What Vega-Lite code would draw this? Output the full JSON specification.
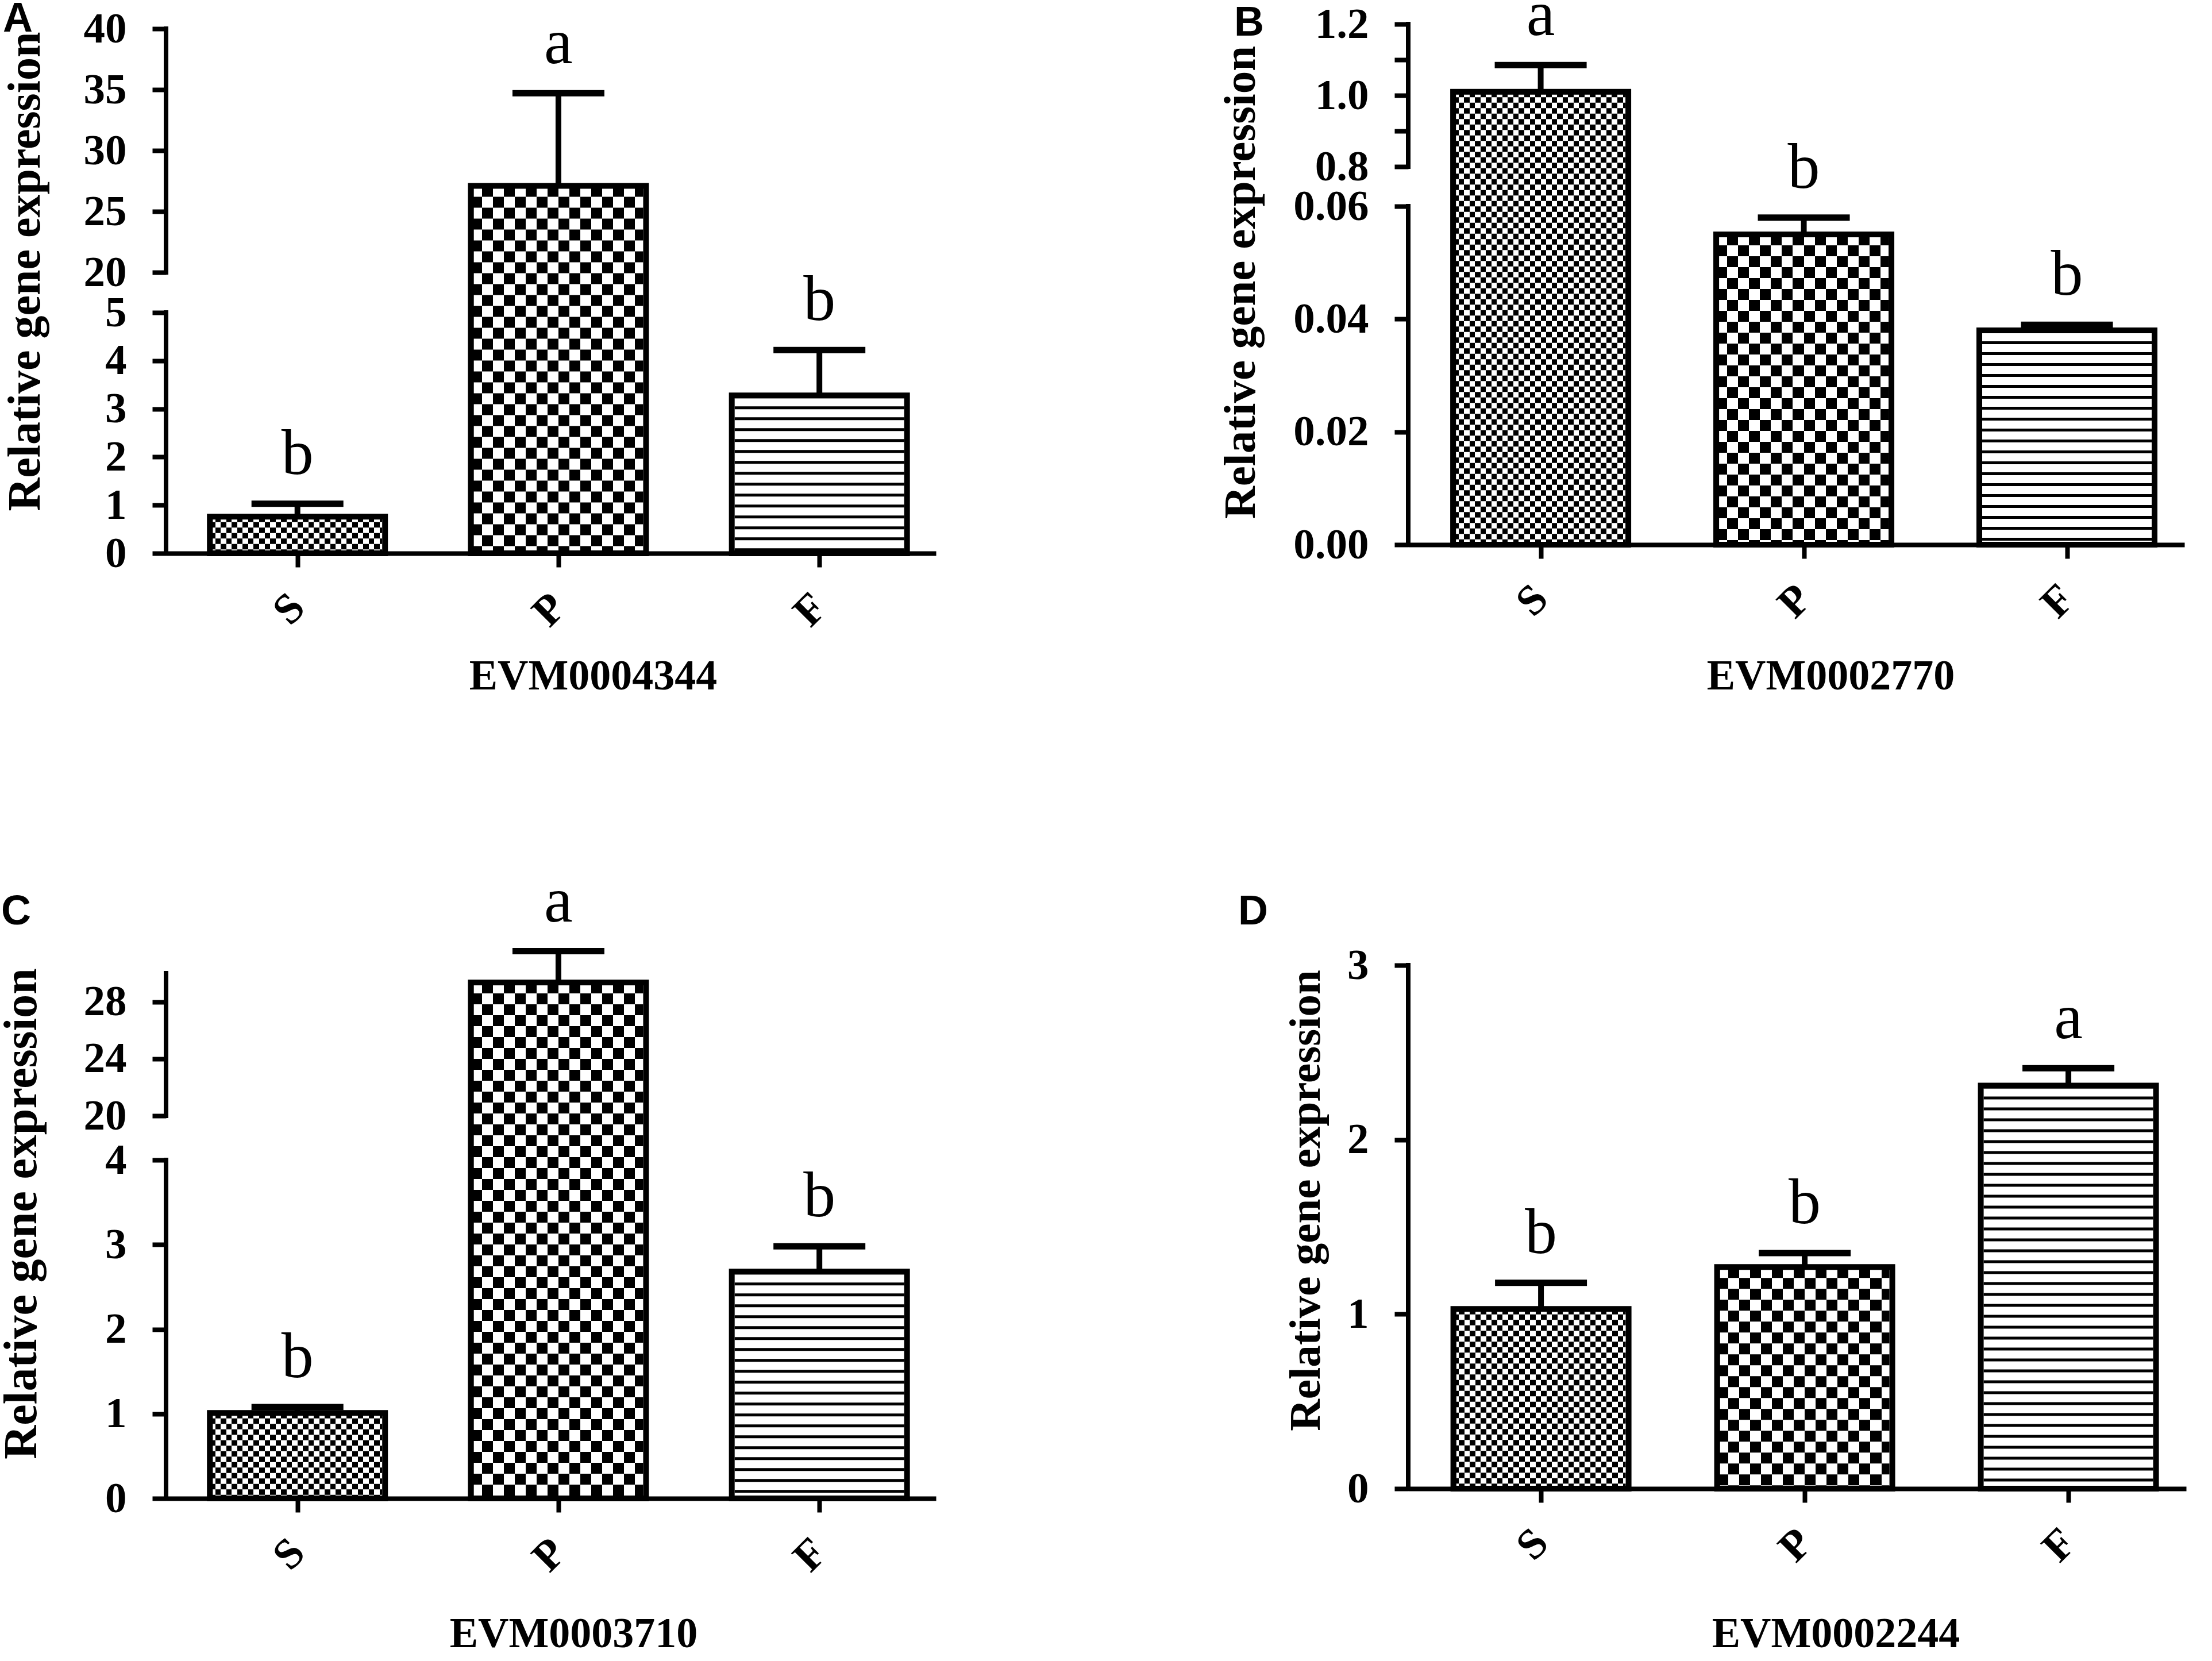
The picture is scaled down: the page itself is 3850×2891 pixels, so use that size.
{
  "$schema": "https://vega.github.io/schema/vega-lite/v6.json",
  "autosize": {"type": "none"},
  "padding": {"left": 289, "top": 50, "right": 3561, "bottom": 2841},
  "background": "white",
  "columns": 2,
  "spacing": {"row": 726, "column": 822},
  "bounds": "flush",
  "concat": [
    {
      "width": 1340,
      "height": 913,
      "title": {"text": "A", "anchor": "start", "frame": "group", "font": "Liberation Sans", "fontWeight": "bold", "fontSize": 72, "color": "#000", "baseline": "alphabetic", "offset": -114, "dx": -284},
      "data": {"values": [
        {"g": "S", "v": 0.76, "err": 1.03, "lab": "b"},
        {"g": "P", "v": 27.1, "err": 34.7, "lab": "a"},
        {"g": "F", "v": 3.28, "err": 4.22, "lab": "b"}
      ]},
      "resolve": {"scale": {"x": "independent"}},
      "layer": [
        {
          "transform": [{"filter": "datum.g === 'S'"}],
          "mark": {"type": "bar", "width": 305, "strokeWidth": 0, "fill": {"gradient": "linear", "x1": 0, "y1": 0, "x2": 1, "y2": 0, "stops": [{"offset":0,"color":"#000"},{"offset":0.03125,"color":"#000"},{"offset":0.03125,"color":"#fff"},{"offset":0.0625,"color":"#fff"},{"offset":0.0625,"color":"#000"},{"offset":0.09375,"color":"#000"},{"offset":0.09375,"color":"#fff"},{"offset":0.125,"color":"#fff"},{"offset":0.125,"color":"#000"},{"offset":0.15625,"color":"#000"},{"offset":0.15625,"color":"#fff"},{"offset":0.1875,"color":"#fff"},{"offset":0.1875,"color":"#000"},{"offset":0.21875,"color":"#000"},{"offset":0.21875,"color":"#fff"},{"offset":0.25,"color":"#fff"},{"offset":0.25,"color":"#000"},{"offset":0.28125,"color":"#000"},{"offset":0.28125,"color":"#fff"},{"offset":0.3125,"color":"#fff"},{"offset":0.3125,"color":"#000"},{"offset":0.34375,"color":"#000"},{"offset":0.34375,"color":"#fff"},{"offset":0.375,"color":"#fff"},{"offset":0.375,"color":"#000"},{"offset":0.40625,"color":"#000"},{"offset":0.40625,"color":"#fff"},{"offset":0.4375,"color":"#fff"},{"offset":0.4375,"color":"#000"},{"offset":0.46875,"color":"#000"},{"offset":0.46875,"color":"#fff"},{"offset":0.5,"color":"#fff"},{"offset":0.5,"color":"#000"},{"offset":0.53125,"color":"#000"},{"offset":0.53125,"color":"#fff"},{"offset":0.5625,"color":"#fff"},{"offset":0.5625,"color":"#000"},{"offset":0.59375,"color":"#000"},{"offset":0.59375,"color":"#fff"},{"offset":0.625,"color":"#fff"},{"offset":0.625,"color":"#000"},{"offset":0.65625,"color":"#000"},{"offset":0.65625,"color":"#fff"},{"offset":0.6875,"color":"#fff"},{"offset":0.6875,"color":"#000"},{"offset":0.71875,"color":"#000"},{"offset":0.71875,"color":"#fff"},{"offset":0.75,"color":"#fff"},{"offset":0.75,"color":"#000"},{"offset":0.78125,"color":"#000"},{"offset":0.78125,"color":"#fff"},{"offset":0.8125,"color":"#fff"},{"offset":0.8125,"color":"#000"},{"offset":0.84375,"color":"#000"},{"offset":0.84375,"color":"#fff"},{"offset":0.875,"color":"#fff"},{"offset":0.875,"color":"#000"},{"offset":0.90625,"color":"#000"},{"offset":0.90625,"color":"#fff"},{"offset":0.9375,"color":"#fff"},{"offset":0.9375,"color":"#000"},{"offset":0.96875,"color":"#000"},{"offset":0.96875,"color":"#fff"},{"offset":1,"color":"#fff"}]}},
          "encoding": {
            "x": {"field": "g", "type": "nominal", "scale": {"type": "point", "domain": ["S", "P", "F"], "padding": 0.475, "align": 0.53}, "axis": {"title": "EVM0004344", "titleX": 743, "titleY": 236}},
            "y": {"field": "v", "type": "quantitative", "scale": {"domain": [0, 5, 20, 40], "range": [913, 494, 424, 0], "nice": false, "zero": false}, "axis": {"title": "Relative gene expression", "values": [0, 1, 2, 3, 4, 5, 20, 25, 30, 35, 40], "format": "d", "titleX": -245, "titleY": 422, "titleFontSize": 80}}
          }
        },
        {
          "transform": [{"filter": "datum.g === 'P'"}],
          "mark": {"type": "bar", "width": 305, "strokeWidth": 0, "fill": {"gradient": "linear", "x1": 0, "y1": 0, "x2": 1, "y2": 0, "stops": [{"offset":0,"color":"#000"},{"offset":0.0625,"color":"#000"},{"offset":0.0625,"color":"#fff"},{"offset":0.125,"color":"#fff"},{"offset":0.125,"color":"#000"},{"offset":0.1875,"color":"#000"},{"offset":0.1875,"color":"#fff"},{"offset":0.25,"color":"#fff"},{"offset":0.25,"color":"#000"},{"offset":0.3125,"color":"#000"},{"offset":0.3125,"color":"#fff"},{"offset":0.375,"color":"#fff"},{"offset":0.375,"color":"#000"},{"offset":0.4375,"color":"#000"},{"offset":0.4375,"color":"#fff"},{"offset":0.5,"color":"#fff"},{"offset":0.5,"color":"#000"},{"offset":0.5625,"color":"#000"},{"offset":0.5625,"color":"#fff"},{"offset":0.625,"color":"#fff"},{"offset":0.625,"color":"#000"},{"offset":0.6875,"color":"#000"},{"offset":0.6875,"color":"#fff"},{"offset":0.75,"color":"#fff"},{"offset":0.75,"color":"#000"},{"offset":0.8125,"color":"#000"},{"offset":0.8125,"color":"#fff"},{"offset":0.875,"color":"#fff"},{"offset":0.875,"color":"#000"},{"offset":0.9375,"color":"#000"},{"offset":0.9375,"color":"#fff"},{"offset":1,"color":"#fff"}]}},
          "encoding": {
            "x": {"field": "g", "type": "nominal", "scale": {"type": "point", "domain": ["S", "P", "F"], "padding": 0.475, "align": 0.53}, "axis": null},
            "y": {"field": "v", "type": "quantitative", "scale": {"domain": [0, 5, 20, 40], "range": [913, 494, 424, 0], "nice": false, "zero": false}}
          }
        },
        {
          "transform": [{"filter": "datum.g === 'F'"}],
          "mark": {"type": "bar", "width": 305, "strokeWidth": 0, "fill": "#fff"},
          "encoding": {
            "x": {"field": "g", "type": "nominal", "scale": {"type": "point", "domain": ["S", "P", "F"], "padding": 0.475, "align": 0.53}, "axis": null},
            "y": {"field": "v", "type": "quantitative", "scale": {"domain": [0, 5, 20, 40], "range": [913, 494, 424, 0], "nice": false, "zero": false}}
          }
        },
        {
          "transform": [{"filter": "datum.g === 'S'"}],
          "mark": {"type": "rule", "strokeWidth": 295, "strokeDash": [9.5, 9.5], "color": "#fff", "blend": "difference"},
          "encoding": {
            "x": {"field": "g", "type": "nominal", "scale": {"type": "point", "domain": ["S", "P", "F"], "padding": 0.475, "align": 0.53}, "axis": null},
            "y": {"field": "v", "type": "quantitative", "scale": {"domain": [0, 5, 20, 40], "range": [913, 494, 424, 0], "nice": false, "zero": false}},
            "y2": {"datum": 0}
          }
        },
        {
          "transform": [{"filter": "datum.g === 'P'"}],
          "mark": {"type": "rule", "strokeWidth": 295, "strokeDash": [19, 19], "color": "#fff", "blend": "difference"},
          "encoding": {
            "x": {"field": "g", "type": "nominal", "scale": {"type": "point", "domain": ["S", "P", "F"], "padding": 0.475, "align": 0.53}, "axis": null},
            "y": {"field": "v", "type": "quantitative", "scale": {"domain": [0, 5, 20, 40], "range": [913, 494, 424, 0], "nice": false, "zero": false}},
            "y2": {"datum": 0}
          }
        },
        {
          "transform": [{"filter": "datum.g === 'F'"}],
          "mark": {"type": "rule", "strokeWidth": 295, "strokeDash": [5, 14], "color": "#000"},
          "encoding": {
            "x": {"field": "g", "type": "nominal", "scale": {"type": "point", "domain": ["S", "P", "F"], "padding": 0.475, "align": 0.53}, "axis": null},
            "y": {"field": "v", "type": "quantitative", "scale": {"domain": [0, 5, 20, 40], "range": [913, 494, 424, 0], "nice": false, "zero": false}},
            "y2": {"datum": 0}
          }
        },
        {
          "mark": {"type": "bar", "width": 305, "fill": "transparent", "stroke": "#000", "strokeWidth": 10},
          "encoding": {
            "x": {"field": "g", "type": "nominal", "scale": {"type": "point", "domain": ["S", "P", "F"], "padding": 0.475, "align": 0.53}, "axis": null},
            "y": {"field": "v", "type": "quantitative", "scale": {"domain": [0, 5, 20, 40], "range": [913, 494, 424, 0], "nice": false, "zero": false}}
          }
        },
        {
          "mark": {"type": "rule", "strokeWidth": 10, "color": "#000"},
          "encoding": {
            "x": {"field": "g", "type": "nominal", "scale": {"type": "point", "domain": ["S", "P", "F"], "padding": 0.475, "align": 0.53}, "axis": null},
            "y": {"field": "v", "type": "quantitative", "scale": {"domain": [0, 5, 20, 40], "range": [913, 494, 424, 0], "nice": false, "zero": false}},
            "y2": {"field": "err"}
          }
        },
        {
          "mark": {"type": "tick", "size": 160, "thickness": 11, "color": "#000", "opacity": 1},
          "encoding": {
            "x": {"field": "g", "type": "nominal", "scale": {"type": "point", "domain": ["S", "P", "F"], "padding": 0.475, "align": 0.53}, "axis": null},
            "y": {"field": "err", "type": "quantitative", "scale": {"domain": [0, 5, 20, 40], "range": [913, 494, 424, 0], "nice": false, "zero": false}}
          }
        },
        {
          "mark": {"type": "text", "font": "Liberation Serif", "fontSize": 112, "dy": -52, "baseline": "alphabetic", "color": "#000"},
          "encoding": {
            "x": {"field": "g", "type": "nominal", "scale": {"type": "point", "domain": ["S", "P", "F"], "padding": 0.475, "align": 0.53}, "axis": null},
            "y": {"field": "err", "type": "quantitative", "scale": {"domain": [0, 5, 20, 40], "range": [913, 494, 424, 0], "nice": false, "zero": false}},
            "text": {"field": "lab", "type": "nominal"}
          }
        },
        {
          "data": {"values": [{"lo": 0, "hi": 5}, {"lo": 20, "hi": 40}]},
          "mark": {"type": "rule", "strokeWidth": 8, "color": "#000", "strokeCap": "square"},
          "encoding": {
            "x": {"datum": 0, "type": "quantitative", "scale": {"domain": [0, 1]}, "axis": null},
            "y": {"field": "lo", "type": "quantitative", "scale": {"domain": [0, 5, 20, 40], "range": [913, 494, 424, 0], "nice": false, "zero": false}},
            "y2": {"field": "hi"}
          }
        }
      ]
    },
    {
      "width": 1351,
      "height": 898,
      "title": {"text": "B", "anchor": "start", "frame": "group", "font": "Liberation Sans", "fontWeight": "bold", "fontSize": 72, "color": "#000", "baseline": "alphabetic", "offset": -163, "dx": -303},
      "data": {"values": [
        {"g": "S", "v": 1.01, "err": 1.085, "lab": "a"},
        {"g": "P", "v": 0.055, "err": 0.058, "lab": "b"},
        {"g": "F", "v": 0.038, "err": 0.039, "lab": "b"}
      ]},
      "resolve": {"scale": {"x": "independent"}},
      "layer": [
        {
          "transform": [{"filter": "datum.g === 'S'"}],
          "mark": {"type": "bar", "width": 305, "strokeWidth": 0, "fill": {"gradient": "linear", "x1": 0, "y1": 0, "x2": 1, "y2": 0, "stops": [{"offset":0,"color":"#000"},{"offset":0.03125,"color":"#000"},{"offset":0.03125,"color":"#fff"},{"offset":0.0625,"color":"#fff"},{"offset":0.0625,"color":"#000"},{"offset":0.09375,"color":"#000"},{"offset":0.09375,"color":"#fff"},{"offset":0.125,"color":"#fff"},{"offset":0.125,"color":"#000"},{"offset":0.15625,"color":"#000"},{"offset":0.15625,"color":"#fff"},{"offset":0.1875,"color":"#fff"},{"offset":0.1875,"color":"#000"},{"offset":0.21875,"color":"#000"},{"offset":0.21875,"color":"#fff"},{"offset":0.25,"color":"#fff"},{"offset":0.25,"color":"#000"},{"offset":0.28125,"color":"#000"},{"offset":0.28125,"color":"#fff"},{"offset":0.3125,"color":"#fff"},{"offset":0.3125,"color":"#000"},{"offset":0.34375,"color":"#000"},{"offset":0.34375,"color":"#fff"},{"offset":0.375,"color":"#fff"},{"offset":0.375,"color":"#000"},{"offset":0.40625,"color":"#000"},{"offset":0.40625,"color":"#fff"},{"offset":0.4375,"color":"#fff"},{"offset":0.4375,"color":"#000"},{"offset":0.46875,"color":"#000"},{"offset":0.46875,"color":"#fff"},{"offset":0.5,"color":"#fff"},{"offset":0.5,"color":"#000"},{"offset":0.53125,"color":"#000"},{"offset":0.53125,"color":"#fff"},{"offset":0.5625,"color":"#fff"},{"offset":0.5625,"color":"#000"},{"offset":0.59375,"color":"#000"},{"offset":0.59375,"color":"#fff"},{"offset":0.625,"color":"#fff"},{"offset":0.625,"color":"#000"},{"offset":0.65625,"color":"#000"},{"offset":0.65625,"color":"#fff"},{"offset":0.6875,"color":"#fff"},{"offset":0.6875,"color":"#000"},{"offset":0.71875,"color":"#000"},{"offset":0.71875,"color":"#fff"},{"offset":0.75,"color":"#fff"},{"offset":0.75,"color":"#000"},{"offset":0.78125,"color":"#000"},{"offset":0.78125,"color":"#fff"},{"offset":0.8125,"color":"#fff"},{"offset":0.8125,"color":"#000"},{"offset":0.84375,"color":"#000"},{"offset":0.84375,"color":"#fff"},{"offset":0.875,"color":"#fff"},{"offset":0.875,"color":"#000"},{"offset":0.90625,"color":"#000"},{"offset":0.90625,"color":"#fff"},{"offset":0.9375,"color":"#fff"},{"offset":0.9375,"color":"#000"},{"offset":0.96875,"color":"#000"},{"offset":0.96875,"color":"#fff"},{"offset":1,"color":"#fff"}]}},
          "encoding": {
            "x": {"field": "g", "type": "nominal", "scale": {"type": "point", "domain": ["S", "P", "F"], "padding": 0.475, "align": 0.53}, "axis": {"title": "EVM0002770", "titleX": 735, "titleY": 251}},
            "y": {"field": "v", "type": "quantitative", "scale": {"domain": [0, 0.06, 0.8, 1.2], "range": [898, 309, 240, -8], "nice": false, "zero": false}, "axis": {"title": "Relative gene expression", "values": [0, 0.02, 0.04, 0.06, 0.8, 0.9, 1, 1.1, 1.2], "labelExpr": "datum.value == 0.9 || datum.value == 1.1 ? '' : (datum.value < 0.5 ? format(datum.value, '.2f') : format(datum.value, '.1f'))", "titleX": -292, "titleY": 441, "titleFontSize": 79}}
          }
        },
        {
          "transform": [{"filter": "datum.g === 'P'"}],
          "mark": {"type": "bar", "width": 305, "strokeWidth": 0, "fill": {"gradient": "linear", "x1": 0, "y1": 0, "x2": 1, "y2": 0, "stops": [{"offset":0,"color":"#000"},{"offset":0.0625,"color":"#000"},{"offset":0.0625,"color":"#fff"},{"offset":0.125,"color":"#fff"},{"offset":0.125,"color":"#000"},{"offset":0.1875,"color":"#000"},{"offset":0.1875,"color":"#fff"},{"offset":0.25,"color":"#fff"},{"offset":0.25,"color":"#000"},{"offset":0.3125,"color":"#000"},{"offset":0.3125,"color":"#fff"},{"offset":0.375,"color":"#fff"},{"offset":0.375,"color":"#000"},{"offset":0.4375,"color":"#000"},{"offset":0.4375,"color":"#fff"},{"offset":0.5,"color":"#fff"},{"offset":0.5,"color":"#000"},{"offset":0.5625,"color":"#000"},{"offset":0.5625,"color":"#fff"},{"offset":0.625,"color":"#fff"},{"offset":0.625,"color":"#000"},{"offset":0.6875,"color":"#000"},{"offset":0.6875,"color":"#fff"},{"offset":0.75,"color":"#fff"},{"offset":0.75,"color":"#000"},{"offset":0.8125,"color":"#000"},{"offset":0.8125,"color":"#fff"},{"offset":0.875,"color":"#fff"},{"offset":0.875,"color":"#000"},{"offset":0.9375,"color":"#000"},{"offset":0.9375,"color":"#fff"},{"offset":1,"color":"#fff"}]}},
          "encoding": {
            "x": {"field": "g", "type": "nominal", "scale": {"type": "point", "domain": ["S", "P", "F"], "padding": 0.475, "align": 0.53}, "axis": null},
            "y": {"field": "v", "type": "quantitative", "scale": {"domain": [0, 0.06, 0.8, 1.2], "range": [898, 309, 240, -8], "nice": false, "zero": false}}
          }
        },
        {
          "transform": [{"filter": "datum.g === 'F'"}],
          "mark": {"type": "bar", "width": 305, "strokeWidth": 0, "fill": "#fff"},
          "encoding": {
            "x": {"field": "g", "type": "nominal", "scale": {"type": "point", "domain": ["S", "P", "F"], "padding": 0.475, "align": 0.53}, "axis": null},
            "y": {"field": "v", "type": "quantitative", "scale": {"domain": [0, 0.06, 0.8, 1.2], "range": [898, 309, 240, -8], "nice": false, "zero": false}}
          }
        },
        {
          "transform": [{"filter": "datum.g === 'S'"}],
          "mark": {"type": "rule", "strokeWidth": 295, "strokeDash": [9.5, 9.5], "color": "#fff", "blend": "difference"},
          "encoding": {
            "x": {"field": "g", "type": "nominal", "scale": {"type": "point", "domain": ["S", "P", "F"], "padding": 0.475, "align": 0.53}, "axis": null},
            "y": {"field": "v", "type": "quantitative", "scale": {"domain": [0, 0.06, 0.8, 1.2], "range": [898, 309, 240, -8], "nice": false, "zero": false}},
            "y2": {"datum": 0}
          }
        },
        {
          "transform": [{"filter": "datum.g === 'P'"}],
          "mark": {"type": "rule", "strokeWidth": 295, "strokeDash": [19, 19], "color": "#fff", "blend": "difference"},
          "encoding": {
            "x": {"field": "g", "type": "nominal", "scale": {"type": "point", "domain": ["S", "P", "F"], "padding": 0.475, "align": 0.53}, "axis": null},
            "y": {"field": "v", "type": "quantitative", "scale": {"domain": [0, 0.06, 0.8, 1.2], "range": [898, 309, 240, -8], "nice": false, "zero": false}},
            "y2": {"datum": 0}
          }
        },
        {
          "transform": [{"filter": "datum.g === 'F'"}],
          "mark": {"type": "rule", "strokeWidth": 295, "strokeDash": [5, 14], "color": "#000"},
          "encoding": {
            "x": {"field": "g", "type": "nominal", "scale": {"type": "point", "domain": ["S", "P", "F"], "padding": 0.475, "align": 0.53}, "axis": null},
            "y": {"field": "v", "type": "quantitative", "scale": {"domain": [0, 0.06, 0.8, 1.2], "range": [898, 309, 240, -8], "nice": false, "zero": false}},
            "y2": {"datum": 0}
          }
        },
        {
          "mark": {"type": "bar", "width": 305, "fill": "transparent", "stroke": "#000", "strokeWidth": 10},
          "encoding": {
            "x": {"field": "g", "type": "nominal", "scale": {"type": "point", "domain": ["S", "P", "F"], "padding": 0.475, "align": 0.53}, "axis": null},
            "y": {"field": "v", "type": "quantitative", "scale": {"domain": [0, 0.06, 0.8, 1.2], "range": [898, 309, 240, -8], "nice": false, "zero": false}}
          }
        },
        {
          "mark": {"type": "rule", "strokeWidth": 10, "color": "#000"},
          "encoding": {
            "x": {"field": "g", "type": "nominal", "scale": {"type": "point", "domain": ["S", "P", "F"], "padding": 0.475, "align": 0.53}, "axis": null},
            "y": {"field": "v", "type": "quantitative", "scale": {"domain": [0, 0.06, 0.8, 1.2], "range": [898, 309, 240, -8], "nice": false, "zero": false}},
            "y2": {"field": "err"}
          }
        },
        {
          "mark": {"type": "tick", "size": 160, "thickness": 11, "color": "#000", "opacity": 1},
          "encoding": {
            "x": {"field": "g", "type": "nominal", "scale": {"type": "point", "domain": ["S", "P", "F"], "padding": 0.475, "align": 0.53}, "axis": null},
            "y": {"field": "err", "type": "quantitative", "scale": {"domain": [0, 0.06, 0.8, 1.2], "range": [898, 309, 240, -8], "nice": false, "zero": false}}
          }
        },
        {
          "mark": {"type": "text", "font": "Liberation Serif", "fontSize": 112, "dy": -52, "baseline": "alphabetic", "color": "#000"},
          "encoding": {
            "x": {"field": "g", "type": "nominal", "scale": {"type": "point", "domain": ["S", "P", "F"], "padding": 0.475, "align": 0.53}, "axis": null},
            "y": {"field": "err", "type": "quantitative", "scale": {"domain": [0, 0.06, 0.8, 1.2], "range": [898, 309, 240, -8], "nice": false, "zero": false}},
            "text": {"field": "lab", "type": "nominal"}
          }
        },
        {
          "data": {"values": [{"lo": 0, "hi": 0.06}, {"lo": 0.8, "hi": 1.2}]},
          "mark": {"type": "rule", "strokeWidth": 8, "color": "#000", "strokeCap": "square"},
          "encoding": {
            "x": {"datum": 0, "type": "quantitative", "scale": {"domain": [0, 1]}, "axis": null},
            "y": {"field": "lo", "type": "quantitative", "scale": {"domain": [0, 0.06, 0.8, 1.2], "range": [898, 309, 240, -8], "nice": false, "zero": false}},
            "y2": {"field": "hi"}
          }
        }
      ]
    },
    {
      "width": 1340,
      "height": 919,
      "title": {"text": "C", "anchor": "start", "frame": "group", "font": "Liberation Sans", "fontWeight": "bold", "fontSize": 72, "color": "#000", "baseline": "alphabetic", "offset": -167, "dx": -287},
      "data": {"values": [
        {"g": "S", "v": 1.01, "err": 1.08, "lab": "b"},
        {"g": "P", "v": 29.35, "err": 31.55, "lab": "a"},
        {"g": "F", "v": 2.68, "err": 2.98, "lab": "b"}
      ]},
      "resolve": {"scale": {"x": "independent"}},
      "layer": [
        {
          "transform": [{"filter": "datum.g === 'S'"}],
          "mark": {"type": "bar", "width": 305, "strokeWidth": 0, "fill": {"gradient": "linear", "x1": 0, "y1": 0, "x2": 1, "y2": 0, "stops": [{"offset":0,"color":"#000"},{"offset":0.03125,"color":"#000"},{"offset":0.03125,"color":"#fff"},{"offset":0.0625,"color":"#fff"},{"offset":0.0625,"color":"#000"},{"offset":0.09375,"color":"#000"},{"offset":0.09375,"color":"#fff"},{"offset":0.125,"color":"#fff"},{"offset":0.125,"color":"#000"},{"offset":0.15625,"color":"#000"},{"offset":0.15625,"color":"#fff"},{"offset":0.1875,"color":"#fff"},{"offset":0.1875,"color":"#000"},{"offset":0.21875,"color":"#000"},{"offset":0.21875,"color":"#fff"},{"offset":0.25,"color":"#fff"},{"offset":0.25,"color":"#000"},{"offset":0.28125,"color":"#000"},{"offset":0.28125,"color":"#fff"},{"offset":0.3125,"color":"#fff"},{"offset":0.3125,"color":"#000"},{"offset":0.34375,"color":"#000"},{"offset":0.34375,"color":"#fff"},{"offset":0.375,"color":"#fff"},{"offset":0.375,"color":"#000"},{"offset":0.40625,"color":"#000"},{"offset":0.40625,"color":"#fff"},{"offset":0.4375,"color":"#fff"},{"offset":0.4375,"color":"#000"},{"offset":0.46875,"color":"#000"},{"offset":0.46875,"color":"#fff"},{"offset":0.5,"color":"#fff"},{"offset":0.5,"color":"#000"},{"offset":0.53125,"color":"#000"},{"offset":0.53125,"color":"#fff"},{"offset":0.5625,"color":"#fff"},{"offset":0.5625,"color":"#000"},{"offset":0.59375,"color":"#000"},{"offset":0.59375,"color":"#fff"},{"offset":0.625,"color":"#fff"},{"offset":0.625,"color":"#000"},{"offset":0.65625,"color":"#000"},{"offset":0.65625,"color":"#fff"},{"offset":0.6875,"color":"#fff"},{"offset":0.6875,"color":"#000"},{"offset":0.71875,"color":"#000"},{"offset":0.71875,"color":"#fff"},{"offset":0.75,"color":"#fff"},{"offset":0.75,"color":"#000"},{"offset":0.78125,"color":"#000"},{"offset":0.78125,"color":"#fff"},{"offset":0.8125,"color":"#fff"},{"offset":0.8125,"color":"#000"},{"offset":0.84375,"color":"#000"},{"offset":0.84375,"color":"#fff"},{"offset":0.875,"color":"#fff"},{"offset":0.875,"color":"#000"},{"offset":0.90625,"color":"#000"},{"offset":0.90625,"color":"#fff"},{"offset":0.9375,"color":"#fff"},{"offset":0.9375,"color":"#000"},{"offset":0.96875,"color":"#000"},{"offset":0.96875,"color":"#fff"},{"offset":1,"color":"#fff"}]}},
          "encoding": {
            "x": {"field": "g", "type": "nominal", "scale": {"type": "point", "domain": ["S", "P", "F"], "padding": 0.475, "align": 0.53}, "axis": {"title": "EVM0003710", "titleX": 709, "titleY": 258}},
            "y": {"field": "v", "type": "quantitative", "scale": {"domain": [0, 4, 20, 30], "range": [919, 330, 253, 5], "nice": false, "zero": false}, "axis": {"title": "Relative gene expression", "values": [0, 1, 2, 3, 4, 20, 24, 28], "format": "d", "titleX": -252, "titleY": 423, "titleFontSize": 82}}
          }
        },
        {
          "transform": [{"filter": "datum.g === 'P'"}],
          "mark": {"type": "bar", "width": 305, "strokeWidth": 0, "fill": {"gradient": "linear", "x1": 0, "y1": 0, "x2": 1, "y2": 0, "stops": [{"offset":0,"color":"#000"},{"offset":0.0625,"color":"#000"},{"offset":0.0625,"color":"#fff"},{"offset":0.125,"color":"#fff"},{"offset":0.125,"color":"#000"},{"offset":0.1875,"color":"#000"},{"offset":0.1875,"color":"#fff"},{"offset":0.25,"color":"#fff"},{"offset":0.25,"color":"#000"},{"offset":0.3125,"color":"#000"},{"offset":0.3125,"color":"#fff"},{"offset":0.375,"color":"#fff"},{"offset":0.375,"color":"#000"},{"offset":0.4375,"color":"#000"},{"offset":0.4375,"color":"#fff"},{"offset":0.5,"color":"#fff"},{"offset":0.5,"color":"#000"},{"offset":0.5625,"color":"#000"},{"offset":0.5625,"color":"#fff"},{"offset":0.625,"color":"#fff"},{"offset":0.625,"color":"#000"},{"offset":0.6875,"color":"#000"},{"offset":0.6875,"color":"#fff"},{"offset":0.75,"color":"#fff"},{"offset":0.75,"color":"#000"},{"offset":0.8125,"color":"#000"},{"offset":0.8125,"color":"#fff"},{"offset":0.875,"color":"#fff"},{"offset":0.875,"color":"#000"},{"offset":0.9375,"color":"#000"},{"offset":0.9375,"color":"#fff"},{"offset":1,"color":"#fff"}]}},
          "encoding": {
            "x": {"field": "g", "type": "nominal", "scale": {"type": "point", "domain": ["S", "P", "F"], "padding": 0.475, "align": 0.53}, "axis": null},
            "y": {"field": "v", "type": "quantitative", "scale": {"domain": [0, 4, 20, 30], "range": [919, 330, 253, 5], "nice": false, "zero": false}}
          }
        },
        {
          "transform": [{"filter": "datum.g === 'F'"}],
          "mark": {"type": "bar", "width": 305, "strokeWidth": 0, "fill": "#fff"},
          "encoding": {
            "x": {"field": "g", "type": "nominal", "scale": {"type": "point", "domain": ["S", "P", "F"], "padding": 0.475, "align": 0.53}, "axis": null},
            "y": {"field": "v", "type": "quantitative", "scale": {"domain": [0, 4, 20, 30], "range": [919, 330, 253, 5], "nice": false, "zero": false}}
          }
        },
        {
          "transform": [{"filter": "datum.g === 'S'"}],
          "mark": {"type": "rule", "strokeWidth": 295, "strokeDash": [9.5, 9.5], "color": "#fff", "blend": "difference"},
          "encoding": {
            "x": {"field": "g", "type": "nominal", "scale": {"type": "point", "domain": ["S", "P", "F"], "padding": 0.475, "align": 0.53}, "axis": null},
            "y": {"field": "v", "type": "quantitative", "scale": {"domain": [0, 4, 20, 30], "range": [919, 330, 253, 5], "nice": false, "zero": false}},
            "y2": {"datum": 0}
          }
        },
        {
          "transform": [{"filter": "datum.g === 'P'"}],
          "mark": {"type": "rule", "strokeWidth": 295, "strokeDash": [19, 19], "color": "#fff", "blend": "difference"},
          "encoding": {
            "x": {"field": "g", "type": "nominal", "scale": {"type": "point", "domain": ["S", "P", "F"], "padding": 0.475, "align": 0.53}, "axis": null},
            "y": {"field": "v", "type": "quantitative", "scale": {"domain": [0, 4, 20, 30], "range": [919, 330, 253, 5], "nice": false, "zero": false}},
            "y2": {"datum": 0}
          }
        },
        {
          "transform": [{"filter": "datum.g === 'F'"}],
          "mark": {"type": "rule", "strokeWidth": 295, "strokeDash": [5, 14], "color": "#000"},
          "encoding": {
            "x": {"field": "g", "type": "nominal", "scale": {"type": "point", "domain": ["S", "P", "F"], "padding": 0.475, "align": 0.53}, "axis": null},
            "y": {"field": "v", "type": "quantitative", "scale": {"domain": [0, 4, 20, 30], "range": [919, 330, 253, 5], "nice": false, "zero": false}},
            "y2": {"datum": 0}
          }
        },
        {
          "mark": {"type": "bar", "width": 305, "fill": "transparent", "stroke": "#000", "strokeWidth": 10},
          "encoding": {
            "x": {"field": "g", "type": "nominal", "scale": {"type": "point", "domain": ["S", "P", "F"], "padding": 0.475, "align": 0.53}, "axis": null},
            "y": {"field": "v", "type": "quantitative", "scale": {"domain": [0, 4, 20, 30], "range": [919, 330, 253, 5], "nice": false, "zero": false}}
          }
        },
        {
          "mark": {"type": "rule", "strokeWidth": 10, "color": "#000"},
          "encoding": {
            "x": {"field": "g", "type": "nominal", "scale": {"type": "point", "domain": ["S", "P", "F"], "padding": 0.475, "align": 0.53}, "axis": null},
            "y": {"field": "v", "type": "quantitative", "scale": {"domain": [0, 4, 20, 30], "range": [919, 330, 253, 5], "nice": false, "zero": false}},
            "y2": {"field": "err"}
          }
        },
        {
          "mark": {"type": "tick", "size": 160, "thickness": 11, "color": "#000", "opacity": 1},
          "encoding": {
            "x": {"field": "g", "type": "nominal", "scale": {"type": "point", "domain": ["S", "P", "F"], "padding": 0.475, "align": 0.53}, "axis": null},
            "y": {"field": "err", "type": "quantitative", "scale": {"domain": [0, 4, 20, 30], "range": [919, 330, 253, 5], "nice": false, "zero": false}}
          }
        },
        {
          "mark": {"type": "text", "font": "Liberation Serif", "fontSize": 112, "dy": -52, "baseline": "alphabetic", "color": "#000"},
          "encoding": {
            "x": {"field": "g", "type": "nominal", "scale": {"type": "point", "domain": ["S", "P", "F"], "padding": 0.475, "align": 0.53}, "axis": null},
            "y": {"field": "err", "type": "quantitative", "scale": {"domain": [0, 4, 20, 30], "range": [919, 330, 253, 5], "nice": false, "zero": false}},
            "text": {"field": "lab", "type": "nominal"}
          }
        },
        {
          "data": {"values": [{"lo": 0, "hi": 4}, {"lo": 20, "hi": 30}]},
          "mark": {"type": "rule", "strokeWidth": 8, "color": "#000", "strokeCap": "square"},
          "encoding": {
            "x": {"datum": 0, "type": "quantitative", "scale": {"domain": [0, 1]}, "axis": null},
            "y": {"field": "lo", "type": "quantitative", "scale": {"domain": [0, 4, 20, 30], "range": [919, 330, 253, 5], "nice": false, "zero": false}},
            "y2": {"field": "hi"}
          }
        }
      ]
    },
    {
      "width": 1354,
      "height": 902,
      "title": {"text": "D", "anchor": "start", "frame": "group", "font": "Liberation Sans", "fontWeight": "bold", "fontSize": 72, "color": "#000", "baseline": "alphabetic", "offset": -38, "dx": -296},
      "data": {"values": [
        {"g": "S", "v": 1.03, "err": 1.18, "lab": "b"},
        {"g": "P", "v": 1.27, "err": 1.35, "lab": "b"},
        {"g": "F", "v": 2.31, "err": 2.41, "lab": "a"}
      ]},
      "resolve": {"scale": {"x": "independent"}},
      "layer": [
        {
          "transform": [{"filter": "datum.g === 'S'"}],
          "mark": {"type": "bar", "width": 305, "strokeWidth": 0, "fill": {"gradient": "linear", "x1": 0, "y1": 0, "x2": 1, "y2": 0, "stops": [{"offset":0,"color":"#000"},{"offset":0.03125,"color":"#000"},{"offset":0.03125,"color":"#fff"},{"offset":0.0625,"color":"#fff"},{"offset":0.0625,"color":"#000"},{"offset":0.09375,"color":"#000"},{"offset":0.09375,"color":"#fff"},{"offset":0.125,"color":"#fff"},{"offset":0.125,"color":"#000"},{"offset":0.15625,"color":"#000"},{"offset":0.15625,"color":"#fff"},{"offset":0.1875,"color":"#fff"},{"offset":0.1875,"color":"#000"},{"offset":0.21875,"color":"#000"},{"offset":0.21875,"color":"#fff"},{"offset":0.25,"color":"#fff"},{"offset":0.25,"color":"#000"},{"offset":0.28125,"color":"#000"},{"offset":0.28125,"color":"#fff"},{"offset":0.3125,"color":"#fff"},{"offset":0.3125,"color":"#000"},{"offset":0.34375,"color":"#000"},{"offset":0.34375,"color":"#fff"},{"offset":0.375,"color":"#fff"},{"offset":0.375,"color":"#000"},{"offset":0.40625,"color":"#000"},{"offset":0.40625,"color":"#fff"},{"offset":0.4375,"color":"#fff"},{"offset":0.4375,"color":"#000"},{"offset":0.46875,"color":"#000"},{"offset":0.46875,"color":"#fff"},{"offset":0.5,"color":"#fff"},{"offset":0.5,"color":"#000"},{"offset":0.53125,"color":"#000"},{"offset":0.53125,"color":"#fff"},{"offset":0.5625,"color":"#fff"},{"offset":0.5625,"color":"#000"},{"offset":0.59375,"color":"#000"},{"offset":0.59375,"color":"#fff"},{"offset":0.625,"color":"#fff"},{"offset":0.625,"color":"#000"},{"offset":0.65625,"color":"#000"},{"offset":0.65625,"color":"#fff"},{"offset":0.6875,"color":"#fff"},{"offset":0.6875,"color":"#000"},{"offset":0.71875,"color":"#000"},{"offset":0.71875,"color":"#fff"},{"offset":0.75,"color":"#fff"},{"offset":0.75,"color":"#000"},{"offset":0.78125,"color":"#000"},{"offset":0.78125,"color":"#fff"},{"offset":0.8125,"color":"#fff"},{"offset":0.8125,"color":"#000"},{"offset":0.84375,"color":"#000"},{"offset":0.84375,"color":"#fff"},{"offset":0.875,"color":"#fff"},{"offset":0.875,"color":"#000"},{"offset":0.90625,"color":"#000"},{"offset":0.90625,"color":"#fff"},{"offset":0.9375,"color":"#fff"},{"offset":0.9375,"color":"#000"},{"offset":0.96875,"color":"#000"},{"offset":0.96875,"color":"#fff"},{"offset":1,"color":"#fff"}]}},
          "encoding": {
            "x": {"field": "g", "type": "nominal", "scale": {"type": "point", "domain": ["S", "P", "F"], "padding": 0.475, "align": 0.53}, "axis": {"title": "EVM0002244", "titleX": 744, "titleY": 275}},
            "y": {"field": "v", "type": "quantitative", "scale": {"domain": [0, 3], "range": [902, -9], "nice": false, "zero": false}, "axis": {"title": "Relative gene expression", "values": [0, 1, 2, 3], "format": "d", "titleX": -178, "titleY": 400, "titleFontSize": 77}}
          }
        },
        {
          "transform": [{"filter": "datum.g === 'P'"}],
          "mark": {"type": "bar", "width": 305, "strokeWidth": 0, "fill": {"gradient": "linear", "x1": 0, "y1": 0, "x2": 1, "y2": 0, "stops": [{"offset":0,"color":"#000"},{"offset":0.0625,"color":"#000"},{"offset":0.0625,"color":"#fff"},{"offset":0.125,"color":"#fff"},{"offset":0.125,"color":"#000"},{"offset":0.1875,"color":"#000"},{"offset":0.1875,"color":"#fff"},{"offset":0.25,"color":"#fff"},{"offset":0.25,"color":"#000"},{"offset":0.3125,"color":"#000"},{"offset":0.3125,"color":"#fff"},{"offset":0.375,"color":"#fff"},{"offset":0.375,"color":"#000"},{"offset":0.4375,"color":"#000"},{"offset":0.4375,"color":"#fff"},{"offset":0.5,"color":"#fff"},{"offset":0.5,"color":"#000"},{"offset":0.5625,"color":"#000"},{"offset":0.5625,"color":"#fff"},{"offset":0.625,"color":"#fff"},{"offset":0.625,"color":"#000"},{"offset":0.6875,"color":"#000"},{"offset":0.6875,"color":"#fff"},{"offset":0.75,"color":"#fff"},{"offset":0.75,"color":"#000"},{"offset":0.8125,"color":"#000"},{"offset":0.8125,"color":"#fff"},{"offset":0.875,"color":"#fff"},{"offset":0.875,"color":"#000"},{"offset":0.9375,"color":"#000"},{"offset":0.9375,"color":"#fff"},{"offset":1,"color":"#fff"}]}},
          "encoding": {
            "x": {"field": "g", "type": "nominal", "scale": {"type": "point", "domain": ["S", "P", "F"], "padding": 0.475, "align": 0.53}, "axis": null},
            "y": {"field": "v", "type": "quantitative", "scale": {"domain": [0, 3], "range": [902, -9], "nice": false, "zero": false}}
          }
        },
        {
          "transform": [{"filter": "datum.g === 'F'"}],
          "mark": {"type": "bar", "width": 305, "strokeWidth": 0, "fill": "#fff"},
          "encoding": {
            "x": {"field": "g", "type": "nominal", "scale": {"type": "point", "domain": ["S", "P", "F"], "padding": 0.475, "align": 0.53}, "axis": null},
            "y": {"field": "v", "type": "quantitative", "scale": {"domain": [0, 3], "range": [902, -9], "nice": false, "zero": false}}
          }
        },
        {
          "transform": [{"filter": "datum.g === 'S'"}],
          "mark": {"type": "rule", "strokeWidth": 295, "strokeDash": [9.5, 9.5], "color": "#fff", "blend": "difference"},
          "encoding": {
            "x": {"field": "g", "type": "nominal", "scale": {"type": "point", "domain": ["S", "P", "F"], "padding": 0.475, "align": 0.53}, "axis": null},
            "y": {"field": "v", "type": "quantitative", "scale": {"domain": [0, 3], "range": [902, -9], "nice": false, "zero": false}},
            "y2": {"datum": 0}
          }
        },
        {
          "transform": [{"filter": "datum.g === 'P'"}],
          "mark": {"type": "rule", "strokeWidth": 295, "strokeDash": [19, 19], "color": "#fff", "blend": "difference"},
          "encoding": {
            "x": {"field": "g", "type": "nominal", "scale": {"type": "point", "domain": ["S", "P", "F"], "padding": 0.475, "align": 0.53}, "axis": null},
            "y": {"field": "v", "type": "quantitative", "scale": {"domain": [0, 3], "range": [902, -9], "nice": false, "zero": false}},
            "y2": {"datum": 0}
          }
        },
        {
          "transform": [{"filter": "datum.g === 'F'"}],
          "mark": {"type": "rule", "strokeWidth": 295, "strokeDash": [5, 14], "color": "#000"},
          "encoding": {
            "x": {"field": "g", "type": "nominal", "scale": {"type": "point", "domain": ["S", "P", "F"], "padding": 0.475, "align": 0.53}, "axis": null},
            "y": {"field": "v", "type": "quantitative", "scale": {"domain": [0, 3], "range": [902, -9], "nice": false, "zero": false}},
            "y2": {"datum": 0}
          }
        },
        {
          "mark": {"type": "bar", "width": 305, "fill": "transparent", "stroke": "#000", "strokeWidth": 10},
          "encoding": {
            "x": {"field": "g", "type": "nominal", "scale": {"type": "point", "domain": ["S", "P", "F"], "padding": 0.475, "align": 0.53}, "axis": null},
            "y": {"field": "v", "type": "quantitative", "scale": {"domain": [0, 3], "range": [902, -9], "nice": false, "zero": false}}
          }
        },
        {
          "mark": {"type": "rule", "strokeWidth": 10, "color": "#000"},
          "encoding": {
            "x": {"field": "g", "type": "nominal", "scale": {"type": "point", "domain": ["S", "P", "F"], "padding": 0.475, "align": 0.53}, "axis": null},
            "y": {"field": "v", "type": "quantitative", "scale": {"domain": [0, 3], "range": [902, -9], "nice": false, "zero": false}},
            "y2": {"field": "err"}
          }
        },
        {
          "mark": {"type": "tick", "size": 160, "thickness": 11, "color": "#000", "opacity": 1},
          "encoding": {
            "x": {"field": "g", "type": "nominal", "scale": {"type": "point", "domain": ["S", "P", "F"], "padding": 0.475, "align": 0.53}, "axis": null},
            "y": {"field": "err", "type": "quantitative", "scale": {"domain": [0, 3], "range": [902, -9], "nice": false, "zero": false}}
          }
        },
        {
          "mark": {"type": "text", "font": "Liberation Serif", "fontSize": 112, "dy": -52, "baseline": "alphabetic", "color": "#000"},
          "encoding": {
            "x": {"field": "g", "type": "nominal", "scale": {"type": "point", "domain": ["S", "P", "F"], "padding": 0.475, "align": 0.53}, "axis": null},
            "y": {"field": "err", "type": "quantitative", "scale": {"domain": [0, 3], "range": [902, -9], "nice": false, "zero": false}},
            "text": {"field": "lab", "type": "nominal"}
          }
        },
        {
          "data": {"values": [{"lo": 0, "hi": 3}]},
          "mark": {"type": "rule", "strokeWidth": 8, "color": "#000", "strokeCap": "square"},
          "encoding": {
            "x": {"datum": 0, "type": "quantitative", "scale": {"domain": [0, 1]}, "axis": null},
            "y": {"field": "lo", "type": "quantitative", "scale": {"domain": [0, 3], "range": [902, -9], "nice": false, "zero": false}},
            "y2": {"field": "hi"}
          }
        }
      ]
    }
  ],
  "config": {
    "view": {"stroke": null},
    "axis": {
      "grid": false,
      "domainColor": "#000",
      "domainWidth": 8,
      "tickColor": "#000",
      "tickWidth": 8,
      "tickSize": 24,
      "labelFont": "Liberation Serif",
      "labelFontWeight": "bold",
      "labelFontSize": 75,
      "labelColor": "#000",
      "labelOverlap": false,
      "labelFlush": false,
      "titleFont": "Liberation Serif",
      "titleFontWeight": "bold",
      "titleColor": "#000"
    },
    "axisY": {
      "domain": false,
      "labelPadding": 45,
      "titleFontSize": 77,
      "titleAngle": -90,
      "titleAlign": "center",
      "titleBaseline": "middle"
    },
    "axisX": {
      "domain": true,
      "labelAngle": -45,
      "labelAlign": "right",
      "labelBaseline": "middle",
      "labelPadding": 58,
      "titleFontSize": 74,
      "titleAlign": "center",
      "titleBaseline": "alphabetic"
    }
  }
}
